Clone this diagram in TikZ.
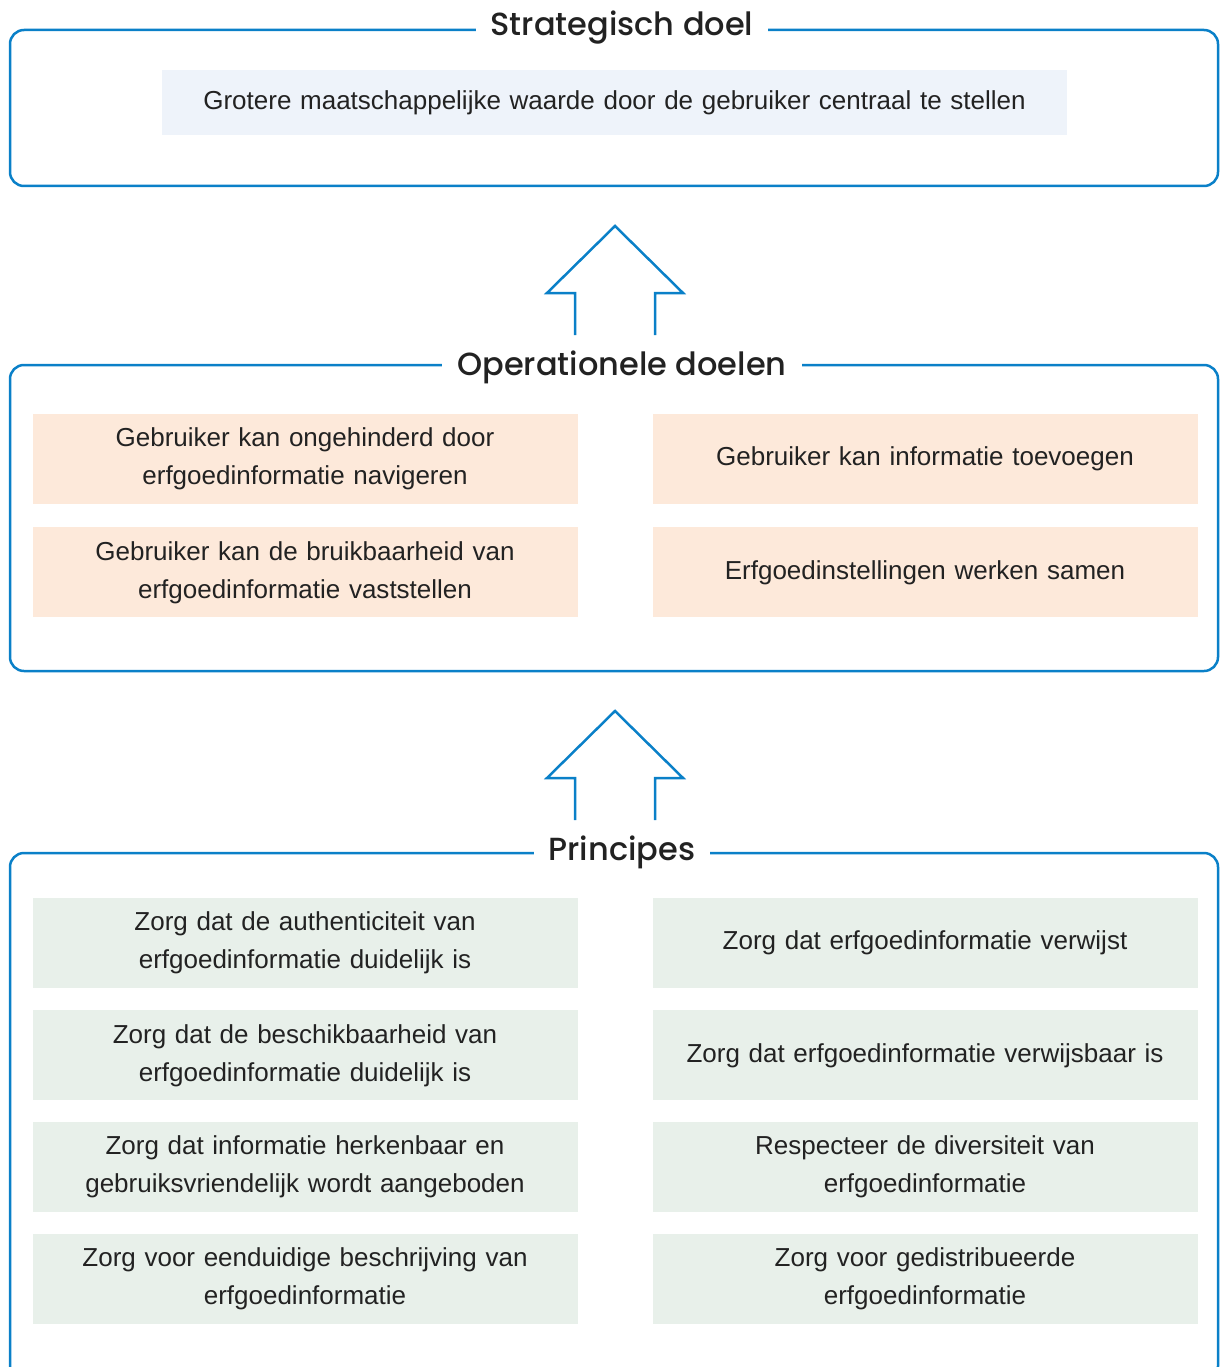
\documentclass[tikz,border=0pt]{standalone}
\usepackage{fontspec}
\setmainfont{Liberation Sans}
\newfontfamily\titlefont{Poppins}[UprightFont=* Medium]
\usetikzlibrary{positioning}
\definecolor{frameblue}{HTML}{0A80C8}
\definecolor{goalfill}{HTML}{EEF3FA}
\definecolor{opfill}{HTML}{FDE9DA}
\definecolor{prinfill}{HTML}{E8F0EA}
\definecolor{textgrey}{HTML}{222222}
\tikzset{
	frame/.style={draw=frameblue,line width=2.5pt,rounded corners=14pt},
	kop/.style={fill=white,inner xsep=15pt,inner ysep=2pt,anchor=base,font=\titlefont\fontsize{32}{36}\selectfont},
	vak/.style={minimum width=545pt,minimum height=90pt,text width=535pt,align=center,inner sep=0pt},
	doelvak/.style={vak,fill=goalfill,minimum width=905pt,minimum height=65pt,text width=895pt},
	opvak/.style={vak,fill=opfill},
	prvak/.style={vak,fill=prinfill},
	pijl/.style={draw=frameblue,line width=2.5pt,line join=miter}
}
\begin{document}
\begin{tikzpicture}[x=1pt,y=-1pt,line join=round,text=textgrey,font=\fontsize{26}{38}\selectfont]
	\useasboundingbox (0,0) rectangle (1219,1367);
	% kaders
	\draw[frame] (10,30) rectangle (1218,186);
	\draw[frame] (10,365) rectangle (1218,671);
	\draw[frame] (10,853) rectangle (1218,1380);
	\node[kop] (strat) at (622,36) {Strategisch doel};
	\node[kop] (oper) at (622,375) {Operationele doelen};
	\node[kop] (princ) at (622,860) {Principes};
	% strategisch doel
	\node[doelvak] (doel) at (614.5,102.5) {Grotere maatschappelijke waarde door de gebruiker centraal te stellen};
	% operationele doelen
	\node[opvak] (op1) at (305,459) {Gebruiker kan ongehinderd door\\erfgoedinformatie navigeren};
	\node[opvak,below=23pt of op1] (op2) {Gebruiker kan de bruikbaarheid van\\erfgoedinformatie vaststellen};
	\node[opvak] (op3) at (925,459) {Gebruiker kan informatie toevoegen};
	\node[opvak,below=23pt of op3] (op4) {Erfgoedinstellingen werken samen};
	% principes
	\node[prvak] (pr1) at (305,943) {Zorg dat de authenticiteit van\\erfgoedinformatie duidelijk is};
	\node[prvak,below=22pt of pr1] (pr2) {Zorg dat de beschikbaarheid van\\erfgoedinformatie duidelijk is};
	\node[prvak,below=21pt of pr2] (pr3) {Zorg dat informatie herkenbaar en\\gebruiksvriendelijk wordt aangeboden};
	\node[prvak,below=22pt of pr3] (pr4) {Zorg voor eenduidige beschrijving van\\erfgoedinformatie};
	\node[prvak] (pr5) at (925,943) {Zorg dat erfgoedinformatie verwijst};
	\node[prvak,below=22pt of pr5] (pr6) {Zorg dat erfgoedinformatie verwijsbaar is};
	\node[prvak,below=21pt of pr6] (pr7) {Respecteer de diversiteit van\\erfgoedinformatie};
	\node[prvak,below=22pt of pr7] (pr8) {Zorg voor gedistribueerde\\erfgoedinformatie};
	% pijlen
	\foreach \dy in {0,485}
		\draw[pijl] (575,335+\dy) -- (575,293+\dy) -- (547,293+\dy) -- (615,226+\dy)
			-- (683,293+\dy) -- (655,293+\dy) -- (655,335+\dy);
\end{tikzpicture}
\end{document}
